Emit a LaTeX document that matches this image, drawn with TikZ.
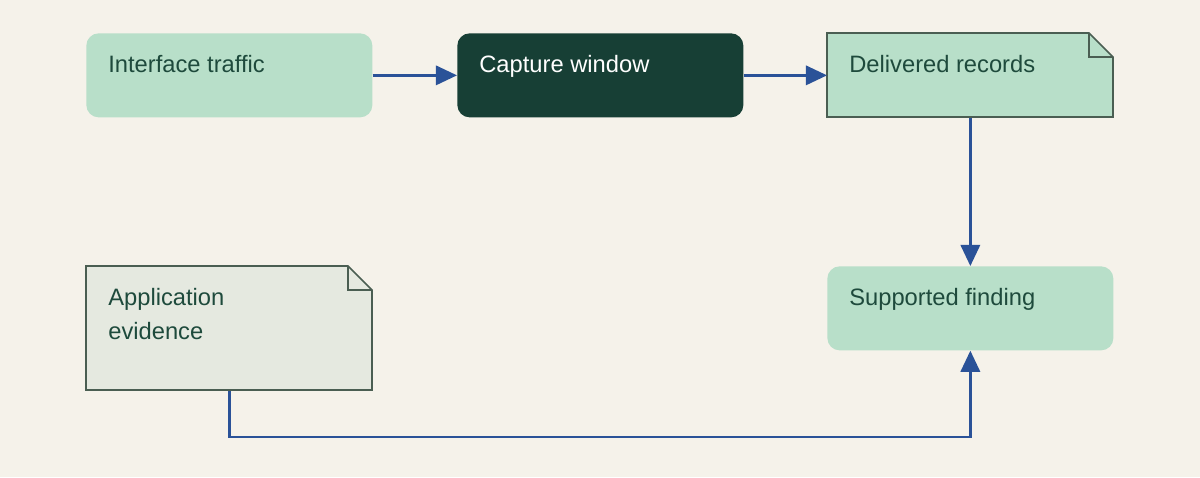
\documentclass[tikz,border=0pt]{standalone}
\usepackage{fontspec}
\setmainfont{Liberation Sans}
\usetikzlibrary{arrows.meta}
\definecolor{bgc}{HTML}{F5F2EA}
\definecolor{mint}{HTML}{B8DFC9}
\definecolor{pine}{HTML}{173F35}
\definecolor{sage}{HTML}{E5E9E0}
\definecolor{edge}{HTML}{4A5E52}
\definecolor{link}{HTML}{2A5298}
\definecolor{ink}{HTML}{1E4A3C}
\tikzset{
  box/.style={minimum width=286*0.02cm, minimum height=84*0.02cm, inner sep=0pt, rounded corners=7pt},
  lbl/.style={anchor=north west, align=left, font=\fontsize{13.5}{19.5}\selectfont, text=ink, inner sep=0pt},
  flow/.style={draw=link, line width=1.4pt, -{Triangle[length=12pt,width=11pt]}},
  note/.style={draw=edge, line width=0.9pt}
}
\begin{document}
\begin{tikzpicture}[x=0.02cm, y=-0.02cm]
  \fill[bgc] (0,0) rectangle (1200,477);
  \useasboundingbox (0,0) rectangle (1200,477);

  % boxes
  \node[box, fill=mint, anchor=north west] (traffic) at (86,33) {};
  \node[box, fill=pine, anchor=north west] (capture) at (457,33) {};
  \node[box, fill=mint, anchor=north west] (finding) at (827,266) {};
  \node[box, anchor=north west, rounded corners=0pt] (records) at (827,33) {};
  \node[box, anchor=north west, rounded corners=0pt, minimum height=124*0.02cm] (evidence) at (86,266) {};

  % folded corners
  \filldraw[note, fill=mint] (827,33) -- (1089,33) -- (1113,57) -- (1113,117) -- (827,117) -- cycle;
  \draw[note] (1089,33) -- (1089,57) -- (1113,57);
  \filldraw[note, fill=sage] (86,266) -- (348,266) -- (372,290) -- (372,390) -- (86,390) -- cycle;
  \draw[note] (348,266) -- (348,290) -- (372,290);

  % labels
  \node[lbl] at (108,55) {Interface traffic};
  \node[lbl, text=white] at (479,55) {Capture window};
  \node[lbl] at (849,55) {Delivered records};
  \node[lbl] at (849,288) {Supported finding};
  \node[lbl] at (108,288) {Application\\evidence};

  % connectors
  \draw[flow] (traffic) -- (capture);
  \draw[flow] (capture) -- (records);
  \draw[flow] (records) -- (finding);
  \draw[flow] (evidence.south) |- (600,437) -| (finding.south);
\end{tikzpicture}
\end{document}
